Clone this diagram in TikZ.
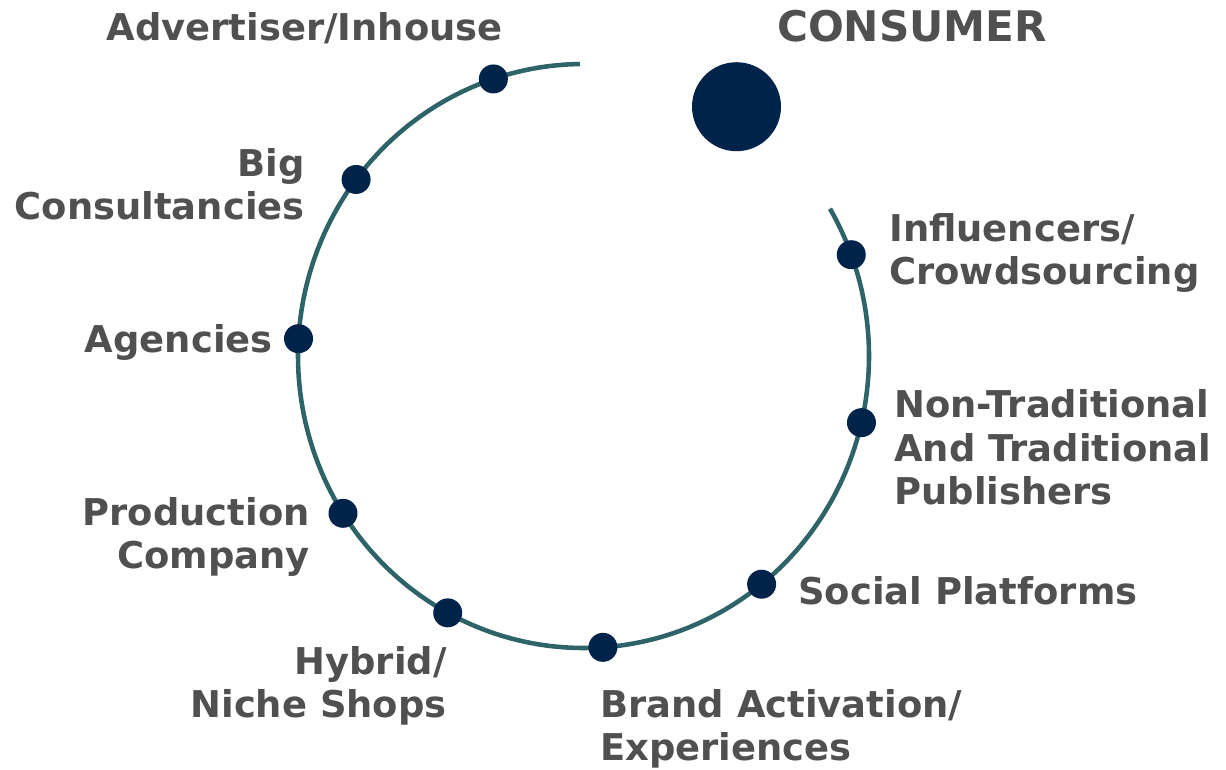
\documentclass[tikz,border=0pt]{standalone}
\usepackage{fontspec}
\setmainfont{DejaVu Sans}

\definecolor{ringteal}{RGB}{46,100,104}
\definecolor{dotnavy}{RGB}{0,35,74}
\definecolor{labelgray}{RGB}{80,80,80}

\tikzset{
  ring/.style={draw=ringteal, line width=2.6pt},
  ringdot/.style={circle, fill=dotnavy, minimum size=0.58cm, inner sep=0pt},
  lbl/.style={text=labelgray, font=\fontsize{21}{24.7}\selectfont\bfseries, inner sep=0pt},
}

\begin{document}
\begin{tikzpicture}[x=0.02cm,y=-0.02cm]
\useasboundingbox (0,0) rectangle (1226,770);
\draw[ring] plot[domain=90.7:390.3,samples=150,smooth] ({583.5+285.5*cos(\x)},{356-292*sin(\x)});
\foreach \a/\n in {108.4/adv,142.8/big,176.6/agc,212.6/prod,241.6/hyb,273.9/brand,308.6/soc,346.8/pub,20.3/infl}
  \node[ringdot] (\n) at ({583.5+285.5*cos(\a)},{356-292*sin(\a)}) {};
\node[circle, fill=dotnavy, minimum size=1.78cm, inner sep=0pt] (consumer) at (736.5,106.7) {};
\draw (912,42) node[lbl, font=\fontsize{24}{28}\selectfont\bfseries, anchor=base] (consumertxt) {CONSUMER};
\draw (503,40.5) node[lbl, anchor=base east] (advtxt) {Advertiser/Inhouse};
\draw (305,219.5) node[lbl, align=right, anchor=base east] (bigtxt) {Big\\Consultancies};
\draw (273,352.5) node[lbl, anchor=base east] (agctxt) {Agencies};
\draw (310,568.5) node[lbl, align=right, anchor=base east] (prodtxt) {Production\\Company};
\draw (447,717.5) node[lbl, align=right, anchor=base east] (hybtxt) {Hybrid/\\Niche Shops};
\draw (600,760.5) node[lbl, align=left, anchor=base west] (brandtxt) {Brand Activation/\\Experiences};
\draw (798,604.5) node[lbl, anchor=base west] (soctxt) {Social Platforms};
\draw (889,284.5) node[lbl, align=left, anchor=base west] (infltxt) {Influencers/\\Crowdsourcing};
\draw (894,504.5) node[lbl, align=left, anchor=base west] (pubtxt) {Non-Traditional\\And Traditional\\Publishers};
\end{tikzpicture}
\end{document}
